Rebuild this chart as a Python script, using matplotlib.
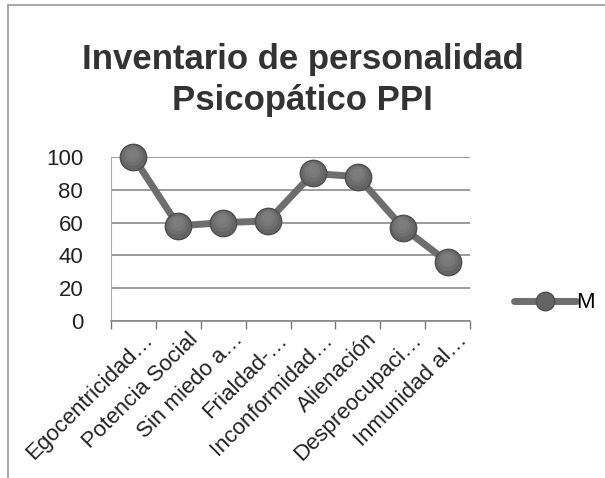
import matplotlib
matplotlib.use("Agg")
import matplotlib.pyplot as plt
from matplotlib.lines import Line2D
import matplotlib.transforms as mtransforms

categories = ["Egocentricidad…", "Potencia Social", "Sin miedo a…", "Frialdad-…",
              "Inconformidad…", "Alienación", "Despreocupaci…", "Inmunidad al…"]
values_M = [100, 58, 60, 61, 90, 88, 57, 36]
yticks = [0, 20, 40, 60, 80, 100]
series_name = "M"
title = "Inventario de personalidad\nPsicopático PPI"

plt.rcParams['font.family'] = ['Liberation Sans', 'DejaVu Sans']

fig = plt.figure(figsize=(6.05, 4.78), dpi=100)
ax = fig.add_axes([111/605, 1-321/478, (470-111)/605, (321-157)/478])

x = list(range(len(categories)))
ax.plot(x, values_M, color='#6e6e6e', lw=5, marker='o', ms=19,
        mfc='#646464', mec='#4e4e4e', mew=1, solid_capstyle='round', zorder=3,
        label=series_name, clip_on=False)
# soft highlight on the spheres
for size, a, dy in [(15, 0.25, 2), (11, 0.3, 3), (7, 0.3, 4)]:
    hl = mtransforms.offset_copy(ax.transData, fig=fig, x=-1, y=dy, units='dots')
    ax.plot(x, values_M, ls='none', marker='o', ms=size, mfc='#8e8e8e', mec='none',
            alpha=a, zorder=4, clip_on=False, transform=hl)
ax.set_xlim(-0.5, len(categories)-0.5)
ax.set_ylim(0, 100)
ax.set_yticks(yticks)
ax.tick_params(axis='y', length=0, labelsize=16, pad=20, colors='#222222')
ax.yaxis.grid(True, color='#8a8a8a', lw=1.2)
ax.set_axisbelow(True)
ax.set_xticks([i - 0.5 for i in range(len(categories)+1)], minor=False)
ax.set_xticklabels([])
ax.tick_params(axis='x', length=6, color='#777777', width=1)
ax.set_xticks(x, minor=True)
ax.set_xticklabels(categories, minor=True, rotation=45, ha='right',
                   rotation_mode='anchor', fontsize=16, color='#222222')
ax.tick_params(axis='x', which='minor', length=0, pad=6)
shift = mtransforms.ScaledTranslation(9/100, 0, fig.dpi_scale_trans)
for lbl in ax.get_xticklabels(minor=True):
    lbl.set_transform(lbl.get_transform() + shift)
for s in ['top', 'right']:
    ax.spines[s].set_visible(False)
ax.spines['bottom'].set_color('#888888')
ax.spines['bottom'].set_linewidth(1.2)
ax.spines['left'].set_color('#aaaaaa')
ax.spines['left'].set_linewidth(0.8)

fig.text(0.5, 1-80/478, title, ha='center', va='center', fontsize=25,
         fontweight='bold', color='#333333', linespacing=1.3)

leg = ax.legend(loc='center left', bbox_to_anchor=((505-111)/(470-111), (321-303)/164),
                frameon=False, fontsize=16, handlelength=2.8, handletextpad=0.0,
                borderaxespad=0, markerscale=0.7)

fig.add_artist(Line2D([8/605, 8/605], [0, 1-5/478], color='#999999', lw=1.2))
fig.add_artist(Line2D([8/605, 1], [1-5/478, 1-5/478], color='#999999', lw=1.2))

fig.savefig("out.png", dpi=100)
